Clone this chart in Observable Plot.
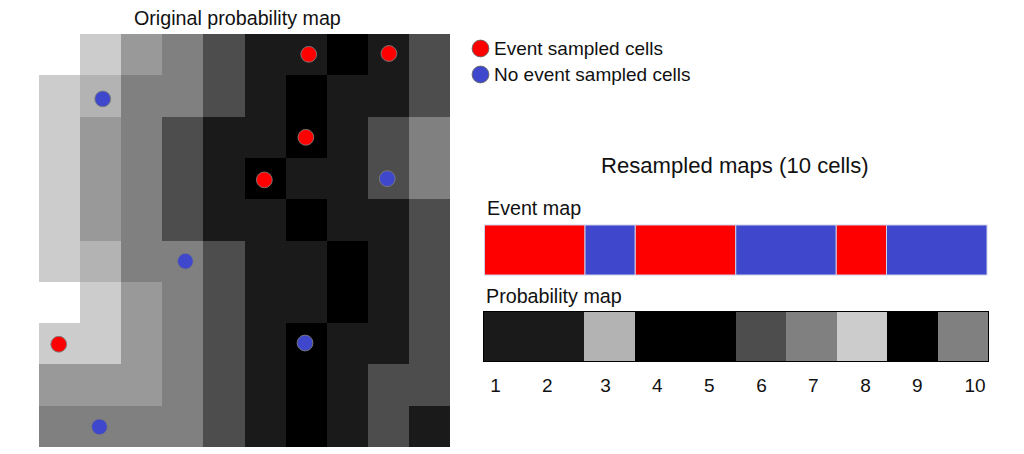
<!DOCTYPE html>
<html>
<head>
<meta charset="utf-8">
<style>
html,body{margin:0;padding:0;background:#fff;width:1024px;height:454px;overflow:hidden}
#page{position:relative;width:1024px;height:454px;font-family:"Liberation Sans",Arial,sans-serif;color:#111}
#page svg{position:absolute;background:transparent;max-width:none}
.t{position:absolute;white-space:nowrap;line-height:1}
</style>
<script src="https://cdn.jsdelivr.net/npm/d3@7"></script>
<script src="https://cdn.jsdelivr.net/npm/@observablehq/plot@0.6"></script>
</head>
<body>
<div id="page"></div>
<script>
const mapTitle = "Original probability map";
const resampledTitle = "Resampled maps (10 cells)";
const eventTitle = "Event map";
const probabilityTitle = "Probability map";
const legendLabels = ["Event sampled cells", "No event sampled cells"];
const legendColors = ["#ff0000", "#3f48cc"];

const gridLevels = [
  [1.0, 0.8, 0.6, 0.5, 0.3, 0.1, 0.1, 0.0, 0.1, 0.3],
  [0.8, 0.7, 0.5, 0.5, 0.3, 0.1, 0.0, 0.1, 0.1, 0.3],
  [0.8, 0.6, 0.5, 0.3, 0.1, 0.1, 0.0, 0.1, 0.3, 0.5],
  [0.8, 0.6, 0.5, 0.3, 0.1, 0.0, 0.1, 0.1, 0.3, 0.5],
  [0.8, 0.6, 0.5, 0.3, 0.1, 0.1, 0.0, 0.1, 0.1, 0.3],
  [0.8, 0.7, 0.5, 0.5, 0.3, 0.1, 0.1, 0.0, 0.1, 0.3],
  [1.0, 0.8, 0.6, 0.5, 0.3, 0.1, 0.1, 0.0, 0.1, 0.3],
  [0.8, 0.8, 0.6, 0.5, 0.3, 0.1, 0.0, 0.1, 0.1, 0.3],
  [0.6, 0.6, 0.6, 0.5, 0.3, 0.1, 0.0, 0.1, 0.3, 0.3],
  [0.5, 0.5, 0.5, 0.5, 0.3, 0.1, 0.0, 0.1, 0.3, 0.1]
];
const eventPointsX = [6.56, 8.51, 6.49, 5.48, 0.48];
const eventPointsY = [0.48, 0.46, 2.49, 3.52, 7.50];
const noEventPointsX = [1.55, 8.47, 3.56, 6.47, 1.47];
const noEventPointsY = [1.56, 3.49, 5.49, 7.47, 9.50];

const resampledEvent = [1, 1, 0, 1, 1, 0, 0, 1, 0, 0];
const resampledLevels = [0.1, 0.1, 0.7, 0, 0, 0.3, 0.5, 0.8, 0, 0.5];
const cellLabels = ["1", "2", "3", "4", "5", "6", "7", "8", "9", "10"];
const cellLabelPositions = [0.22, 1.25, 2.41, 3.44, 4.48, 5.52, 6.55, 7.59, 8.62, 9.77];

const page = document.getElementById("page");
const grey = {type: "linear", domain: [0, 1], range: ["#000000", "#ffffff"], interpolate: "rgb"};

function place(svg, left, top) {
  svg.style.left = left + "px";
  svg.style.top = top + "px";
  page.appendChild(svg);
}
function label(text, left, top, size) {
  const d = document.createElement("div");
  d.className = "t";
  d.textContent = text;
  d.style.left = left + "px";
  d.style.top = top + "px";
  d.style.fontSize = size + "px";
  page.appendChild(d);
}

// Original probability map
const gridCells = gridLevels.flatMap((row, r) => row.map((v, c) => ({c, r, v})));
const dotStyle = {r: 7.9, dx: -0.5, stroke: "#7a7a7a", strokeWidth: 0.9};
place(Plot.plot({
  width: 412, height: 413, margin: 0,
  x: {domain: [0, 10], range: [0, 411.2], axis: null},
  y: {domain: [0, 10], range: [0, 413], axis: null},
  color: grey,
  marks: [
    Plot.rect(gridCells, {x1: "c", x2: d => d.c + 1, y1: "r", y2: d => d.r + 1, fill: "v", shapeRendering: "crispEdges"}),
    Plot.dot(eventPointsX.map((x, i) => [x, eventPointsY[i]]), {x: "0", y: "1", fill: legendColors[0], ...dotStyle}),
    Plot.dot(noEventPointsX.map((x, i) => [x, noEventPointsY[i]]), {x: "0", y: "1", fill: legendColors[1], ...dotStyle})
  ]
}), 38.7, 34);
label(mapTitle, 134, 9, 19.7);

// Legend
place(Plot.plot({
  width: 240, height: 52, margin: 0,
  y: {type: "point", domain: legendLabels, range: [13, 39], padding: 0, axis: null},
  marks: [
    Plot.dot(legendLabels, {y: d => d, frameAnchor: "left", dx: 10, r: 8.4, fill: (d, i) => legendColors[i], stroke: "#666", strokeWidth: 0.9}),
    Plot.text(legendLabels, {y: d => d, frameAnchor: "left", dx: 23.5, text: d => d, textAnchor: "start", fontSize: 19, fontFamily: "Liberation Sans", fill: "#111"})
  ]
}), 470, 35);

// Resampled maps
label(resampledTitle, 601, 155, 22.1);
label(eventTitle, 487, 199, 19.7);
label(probabilityTitle, 486, 287, 19.7);

const runs = [];
resampledEvent.forEach((v, i) => {
  const last = runs[runs.length - 1];
  if (last && last.v === v) last.end = i + 1;
  else runs.push({start: i, end: i + 1, v});
});
place(Plot.plot({
  width: 504, height: 52, margin: 0,
  x: {domain: [0, 10], range: [0.5, 503], axis: null},
  y: {domain: [0, 1], range: [1, 51], axis: null},
  marks: [
    Plot.rect(runs, {x1: "start", x2: "end", y1: 0, y2: 1, fill: d => legendColors[d.v ? 0 : 1], stroke: "#cfcfe8", strokeWidth: 1})
  ]
}), 483.5, 224);

place(Plot.plot({
  width: 507, height: 52, margin: 0,
  x: {domain: [0, 10], range: [1, 506], axis: null},
  y: {domain: [0, 1], range: [1, 51], axis: null},
  color: grey,
  marks: [
    Plot.rect(resampledLevels.map((v, i) => ({i, v})), {x1: "i", x2: d => d.i + 1, y1: 0, y2: 1, fill: "v", shapeRendering: "crispEdges"}),
    Plot.rect([{x1: 0, x2: 10, y1: 0, y2: 1}], {x1: "x1", x2: "x2", y1: "y1", y2: "y2", fill: "none", stroke: "#000", strokeWidth: 1, shapeRendering: "crispEdges"})
  ]
}), 482, 310);

place(Plot.plot({
  width: 504, height: 28, margin: 0,
  x: {domain: [0, 10], range: [1, 503], axis: null},
  y: {domain: [0, 1], range: [28, 0], axis: null},
  marks: [
    Plot.text(cellLabels, {x: (d, i) => cellLabelPositions[i], y: 0.5, text: d => d, fontSize: 19, fontFamily: "Liberation Sans", fill: "#111"})
  ]
}), 483, 371);
</script>
</body>
</html>
